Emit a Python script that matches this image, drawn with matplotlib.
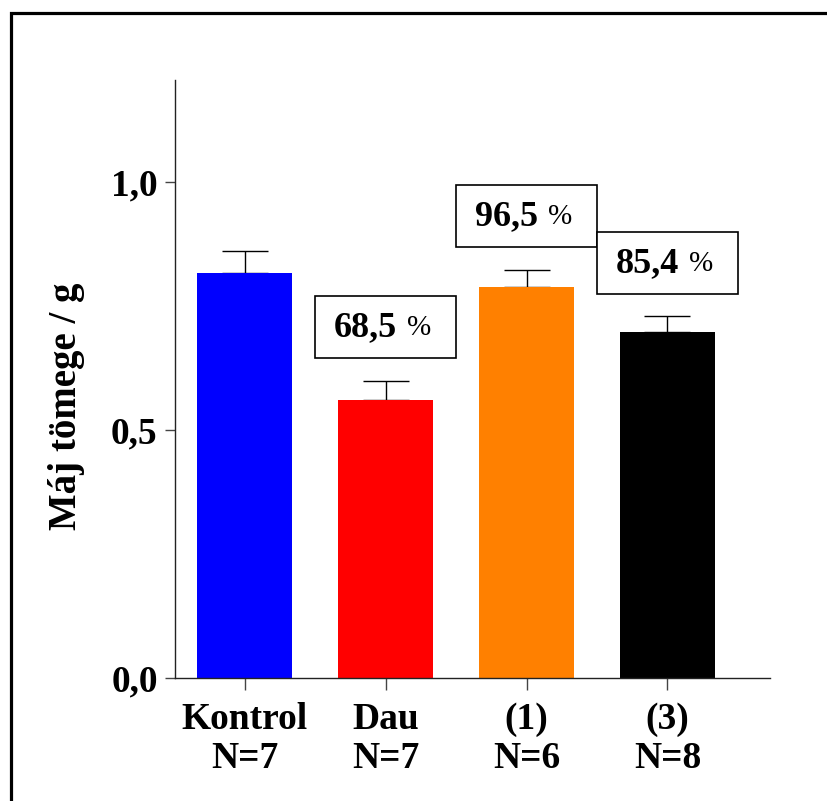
import matplotlib
matplotlib.use("Agg")
import matplotlib.pyplot as plt
from matplotlib.patches import Rectangle

# Liver mass per treatment group (mean ± SEM, upper bar only)
groups = ["Kontrol", "Dau", "(1)", "(3)"]
n_animals = [7, 7, 6, 8]
control_mean = 0.817
percent_of_control = [None, 68.5, 96.5, 85.4]
means = [control_mean] + [control_mean * p / 100 for p in percent_of_control[1:]]
errors = [0.044, 0.039, 0.035, 0.032]
colors = ["#0000FF", "#FF0000", "#FF8000", "#000000"]
yticks = [0.0, 0.5, 1.0]
ytick_labels = ["0,0", "0,5", "1,0"]
ylabel = "Máj tömege / g"

# vertical centres of the percentage boxes (axis units)
box_centres = [None, 0.707, 0.931, 0.836]

W, H = 827, 801
fig = plt.figure(figsize=(W / 100, H / 100), dpi=100)
fig.patch.set_facecolor("white")

serif = ["Liberation Serif", "DejaVu Serif"]

ax = fig.add_axes([175 / W, 1 - 678 / H, (770 - 175) / W, (678 - 80) / H])
x = list(range(len(groups)))
ax.bar(x, means, width=0.67, color=colors, edgecolor="none", zorder=2)
ax.errorbar(x, means, yerr=[[0] * len(errors), errors], fmt="none",
            ecolor="black", elinewidth=1.0, capsize=16.5, capthick=1.0, zorder=1)

ax.set_xlim(-0.493, 3.727)
ax.set_ylim(0, 1.2056)
for side in ("top", "right"):
    ax.spines[side].set_visible(False)
for side in ("left", "bottom"):
    ax.spines[side].set_linewidth(1.0)
    ax.spines[side].set_color("#222222")

ax.set_yticks(yticks)
ax.set_yticklabels(ytick_labels, fontfamily=serif, fontweight="bold", fontsize=27)
ax.set_xticks(x)
ax.set_xticklabels([f"{g}\nN={n}" for g, n in zip(groups, n_animals)],
                   fontfamily=serif, fontweight="bold", fontsize=27, linespacing=1.12)
ax.tick_params(axis="y", length=7.5, width=1.0, color="#444444", pad=5)
ax.tick_params(axis="x", length=8.5, width=1.0, color="#444444", pad=9)

ax.set_ylabel(ylabel, fontfamily=serif, fontweight="bold", fontsize=28)
ax.yaxis.set_label_coords(-0.152, 0.455)

# boxed percentage-of-control annotations
box_w, box_h = 1.0, 0.125
for xi, pct, yc in zip(x, percent_of_control, box_centres):
    if pct is None:
        continue
    ax.add_patch(Rectangle((xi - box_w / 2, yc - box_h / 2), box_w, box_h,
                           facecolor="white", edgecolor="black", linewidth=1.2,
                           zorder=3, clip_on=False))
    num = f"{pct:.1f}".replace(".", ",")
    ax.text(xi + 0.08, yc, num, ha="right", va="center", fontfamily=serif,
            fontweight="bold", fontsize=26, zorder=4)
    ax.text(xi + 0.15, yc - 0.002, "%", ha="left", va="center", fontfamily=serif,
            fontsize=21, zorder=4)

# outer frame around the figure
fig.patches.append(Rectangle((11 / W, -0.5), 2.0, 1 - 13 / H + 0.5,
                             transform=fig.transFigure, fill=False,
                             edgecolor="black", linewidth=2.3))

fig.savefig("out.png", dpi=100, facecolor="white")
